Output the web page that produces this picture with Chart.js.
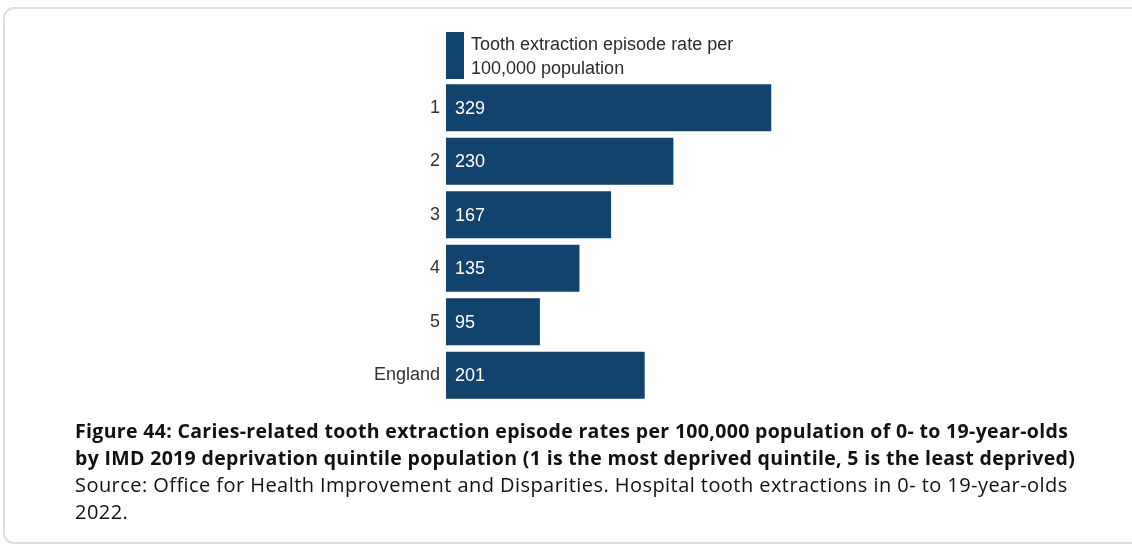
<!DOCTYPE html>
<html>
<head>
<meta charset="utf-8">
<title>Tooth extraction episode rates by deprivation quintile</title>
<script src="https://cdn.jsdelivr.net/npm/chart.js@4.4.1/dist/chart.umd.min.js"></script>
<style>
  html, body { margin: 0; padding: 0; background: #ffffff; }
  body { width: 1132px; height: 545px; position: relative; overflow: hidden; }
  .frame {
    position: absolute; left: 3px; top: 7px; width: 1200px; height: 537px;
    box-sizing: border-box; border: 2px solid #dedede; border-radius: 11px;
  }
  #wrap { position: absolute; left: 0; top: 0; width: 1132px; height: 545px; }
  .caption {
    position: absolute; left: 75px; top: 417px;
    font-family: "Open Sans", Lato, sans-serif; font-size: 20px;
    letter-spacing: 0.44px;
    line-height: 27px; color: #111; white-space: nowrap;
  }
  .caption .title { font-weight: bold; font-size: 19.5px; letter-spacing: 0.33px; }
</style>
</head>
<body>
<div class="frame"></div>
<div id="wrap"><canvas id="chart" width="1132" height="545"></canvas></div>
<div class="caption">
  <div class="title">Figure 44: Caries-related tooth extraction episode rates per 100,000 population of 0- to 19-year-olds</div>
  <div class="title">by IMD 2019 deprivation quintile population (1 is the most deprived quintile, 5 is the least deprived)</div>
  <div>Source: Office for Health Improvement and Disparities. Hospital tooth extractions in 0- to 19-year-olds</div>
  <div>2022.</div>
</div>
<script>
// Deprivation quintiles plus the national figure
const categories = ['1', '2', '3', '4', '5', 'England'];
// Episode rate per 100,000 population
const rates = [329, 230, 167, 135, 95, 201];
// Series name, split over two lines in the key
const seriesLabel = ['Tooth extraction episode rate per', '100,000 population'];

const BAR_COLOR = '#12436D';
const FONT = '"Liberation Sans", Arial, sans-serif';

// Key drawn above the bars: a tall swatch with the two-line series name
const keyPlugin = {
  id: 'keyPlugin',
  afterDraw(chart) {
    const ctx = chart.ctx;
    const x = chart.chartArea.left;
    ctx.save();
    ctx.fillStyle = BAR_COLOR;
    ctx.fillRect(x, 32, 18, 47);
    ctx.fillStyle = '#2b2b2b';
    ctx.font = '18px ' + FONT;
    ctx.textAlign = 'left';
    ctx.textBaseline = 'alphabetic';
    seriesLabel.forEach((line, i) => ctx.fillText(line, x + 25, 50 + i * 24));
    ctx.restore();
  }
};

// White value labels just inside the start of each bar
const valueLabels = {
  id: 'valueLabels',
  afterDatasetsDraw(chart) {
    const ctx = chart.ctx;
    const meta = chart.getDatasetMeta(0);
    ctx.save();
    ctx.fillStyle = '#ffffff';
    ctx.font = '18px ' + FONT;
    ctx.textAlign = 'left';
    ctx.textBaseline = 'middle';
    meta.data.forEach((bar, i) => {
      ctx.fillText(String(chart.data.datasets[0].data[i]), bar.base + 9, bar.y + 1);
    });
    ctx.restore();
  }
};

new Chart(document.getElementById('chart'), {
  type: 'bar',
  data: {
    labels: categories,
    datasets: [{
      label: seriesLabel.join(' '),
      data: rates,
      backgroundColor: BAR_COLOR,
      borderWidth: 0,
      barPercentage: 0.88,
      categoryPercentage: 1
    }]
  },
  options: {
    indexAxis: 'y',
    responsive: false,
    animation: false,
    layout: { padding: { top: 81, bottom: 143, right: 340, left: 0 } },
    plugins: {
      legend: { display: false },
      tooltip: { enabled: false }
    },
    scales: {
      x: {
        display: false,
        min: 0,
        max: 350
      },
      y: {
        grid: { display: false, drawTicks: false },
        border: { display: false },
        ticks: {
          color: '#333333',
          padding: 6,
          font: { family: FONT, size: 18 }
        },
        afterFit(scale) { scale.width = 446; }
      }
    }
  },
  plugins: [keyPlugin, valueLabels]
});
</script>
</body>
</html>
